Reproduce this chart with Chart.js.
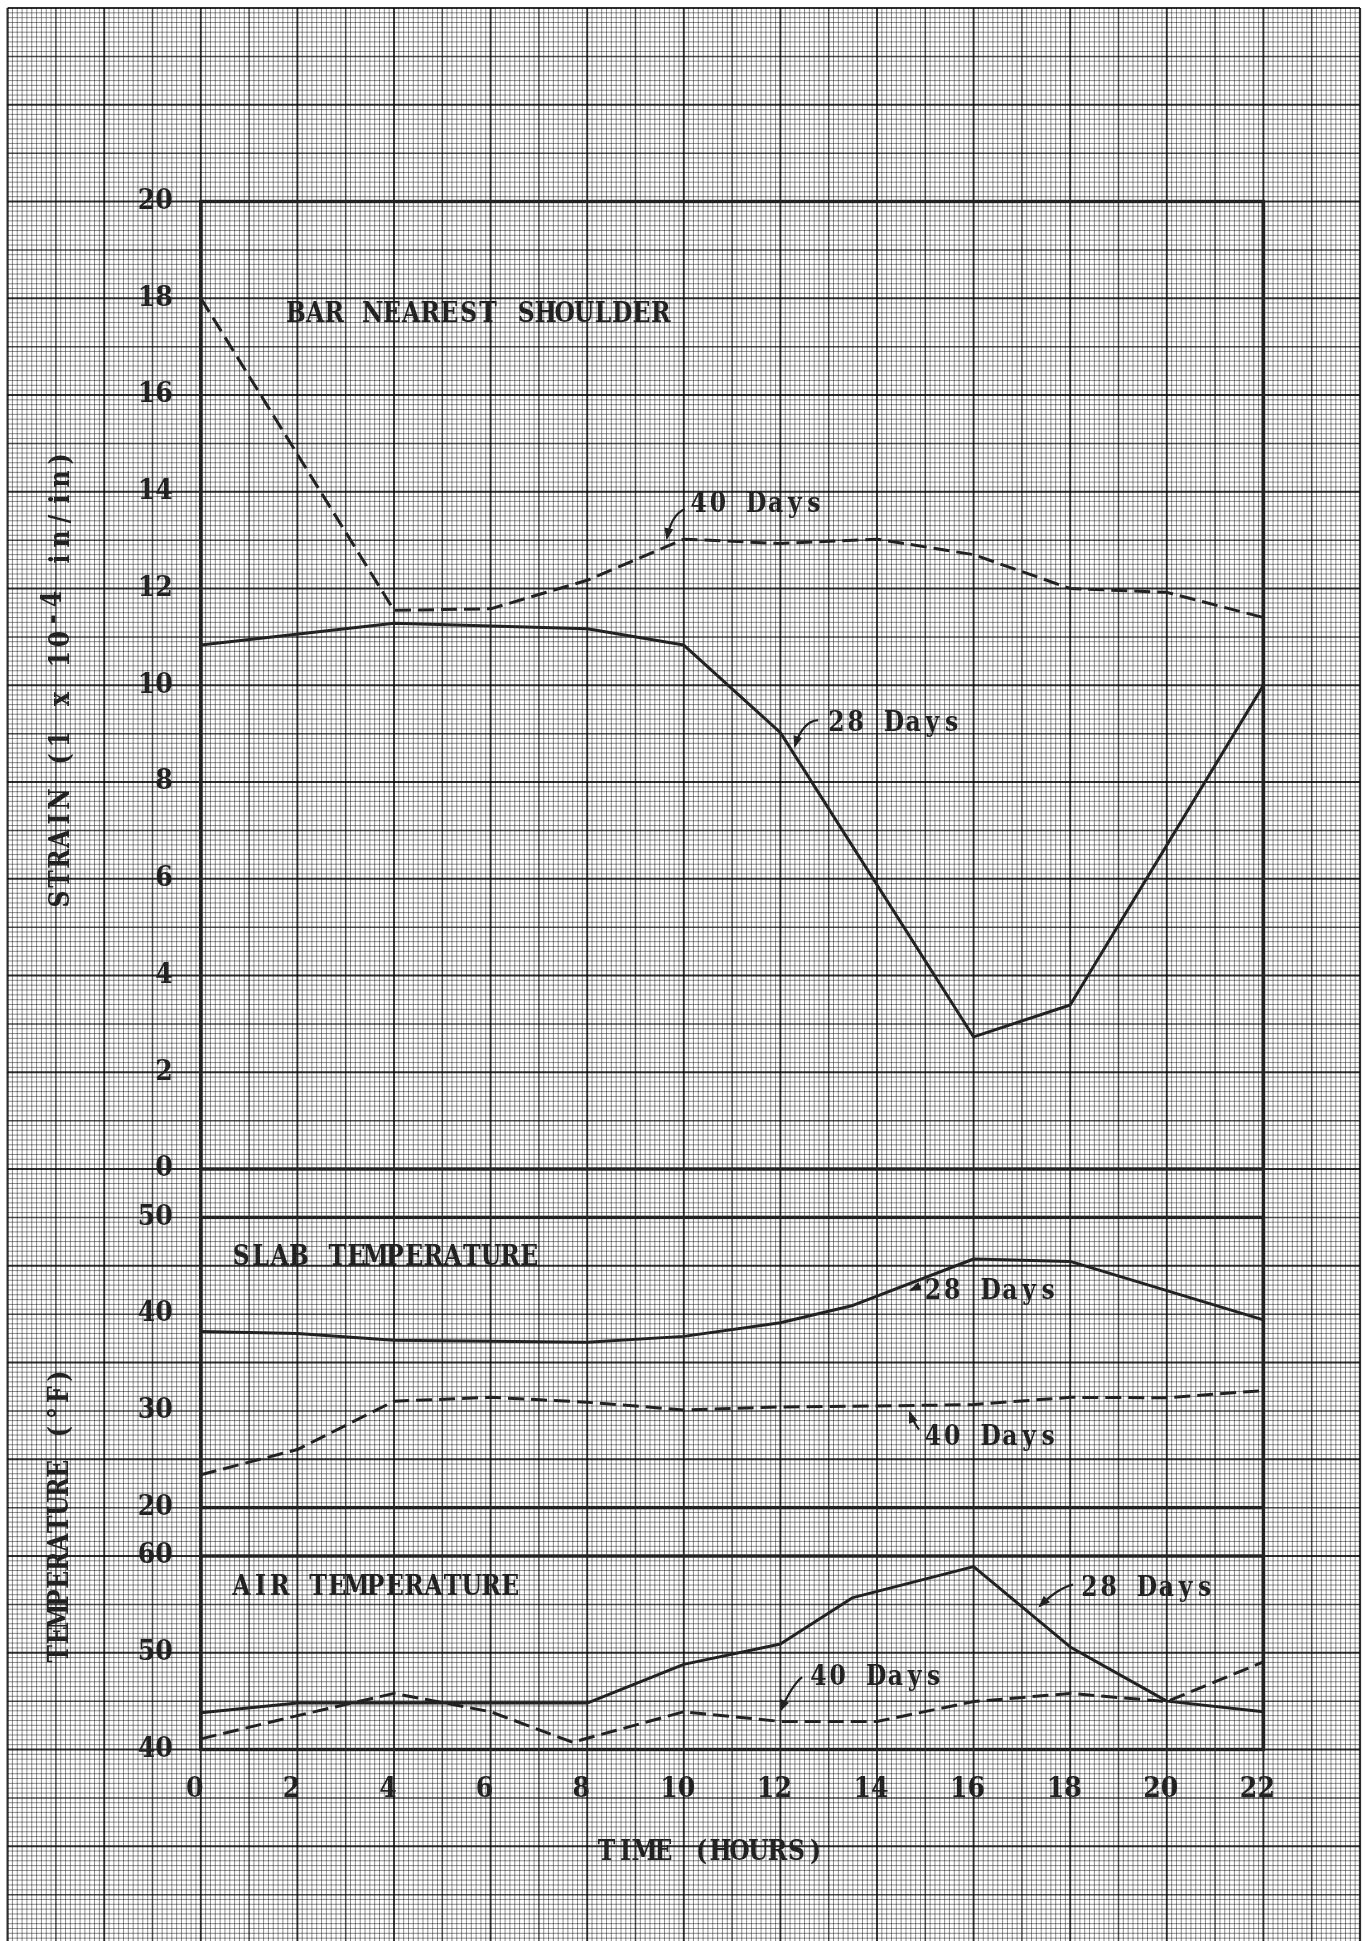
<!DOCTYPE html>
<html>
<head>
<meta charset="utf-8">
<title>Strain and temperature vs time</title>
<script src="https://cdn.jsdelivr.net/npm/chart.js@4/dist/chart.umd.min.js"></script>
<style>
  html, body { margin: 0; padding: 0; background: #fff; }
  canvas { display: block; }
</style>
</head>
<body>
<canvas id="chart" width="1365" height="1941"></canvas>
<script>
// ---- tick labels ----
const timeTicks   = [0, 2, 4, 6, 8, 10, 12, 14, 16, 18, 20, 22];
const strainTicks = [0, 2, 4, 6, 8, 10, 12, 14, 16, 18, 20];
const slabTicks   = [20, 30, 40, 50];
const airTicks    = [40, 50, 60];

// ---- strain, bar nearest shoulder (1 x 10^-4 in/in) ----
const strainHours28 = [0, 4, 8, 10, 12, 16, 18, 22];
const strain28      = [10.83, 11.28, 11.17, 10.83, 9.02, 2.73, 3.39, 10.0];
const strainHours40 = [0, 4, 6, 8, 10, 12, 14, 16, 18, 20, 22];
const strain40      = [18.0, 11.55, 11.58, 12.17, 13.02, 12.93, 13.02, 12.7, 12.0, 11.92, 11.4];

// ---- slab temperature (deg F) ----
const slabHours28 = [0, 2, 4, 8, 10, 12, 13.5, 16, 18, 22];
const slab28      = [38.2, 38.0, 37.3, 37.1, 37.7, 39.1, 40.9, 45.7, 45.45, 39.4];
const slabHours40 = [0, 2, 4, 6, 8, 10, 12, 14, 16, 18, 20, 22];
const slab40      = [23.4, 26.0, 31.0, 31.4, 30.9, 30.1, 30.4, 30.5, 30.65, 31.4, 31.35, 32.1];

// ---- air temperature (deg F) ----
const airHours28 = [0, 2, 8, 10, 12, 13.5, 16, 18, 20, 22];
const air28      = [43.8, 44.8, 44.8, 48.8, 50.9, 55.7, 58.9, 50.6, 45.0, 43.9];
const airHours40 = [0, 2, 4, 6, 7.7, 10, 12, 14, 16, 18, 20, 22];
const air40      = [41.1, 43.5, 45.8, 43.9, 40.75, 43.9, 42.9, 42.9, 44.95, 45.8, 44.95, 49.05];

// ---- typed labels placed in data units of each panel ----
const panelTitles = [
  { text: 'BAR NEAREST SHOULDER', yAxis: 'yStrain', x: 1.77, y: 17.72 },
  { text: 'SLAB TEMPERATURE',     yAxis: 'ySlab',   x: 0.64, y: 46.14 },
  { text: 'AIR TEMPERATURE',      yAxis: 'yAir',    x: 0.64, y: 57.05 }
];
const curveNotes = [
  { text: '40 Days', yAxis: 'yStrain', x: 10.11, y: 13.79, arrow: [[10.02, 13.64], [9.75, 13.54], [9.65, 13.04]] },
  { text: '28 Days', yAxis: 'yStrain', x: 12.96, y: 9.27,  arrow: [[12.78, 9.28], [12.46, 9.26], [12.30, 8.74]] },
  { text: '28 Days', yAxis: 'ySlab',   x: 14.96, y: 42.55, arrow: [[14.91, 42.91], [14.82, 42.75], [14.70, 42.50]] },
  { text: '40 Days', yAxis: 'ySlab',   x: 14.96, y: 27.46, arrow: [[14.87, 28.05], [14.74, 28.98], [14.68, 29.81]] },
  { text: '28 Days', yAxis: 'yAir',    x: 18.20, y: 56.90, arrow: [[18.06, 57.04], [17.75, 56.69], [17.37, 54.83]] },
  { text: '40 Days', yAxis: 'yAir',    x: 12.59, y: 47.67, arrow: [[12.45, 47.49], [12.24, 46.67], [12.01, 44.08]] }
];

// ---- look ----
const INK = '#222222';
const FAMILY = '"DejaVu Serif Condensed", "DejaVu Serif", serif';
const TYPE_SIZE = 27.5;      // px
const CAP = 20;              // cap height of the typed lettering
const SQUEEZE = 0.95;        // horizontal squeeze of each typed glyph
const ADVANCE = 19.2;        // fixed typewriter pitch

function series(hours, values) {
  return hours.map((h, i) => ({ x: h, y: values[i] }));
}

function drawTyped(ctx, segments, left, midY, adv) {
  let i = 0;
  for (const seg of segments) {
    for (const ch of seg.t) {
      if (ch !== ' ') {
        ctx.save();
        ctx.translate(left + adv * (i + 0.5), midY + CAP / 2 + (seg.dy || 0));
        ctx.scale(SQUEEZE, 1);
        ctx.fillText(ch, 0, 0);
        ctx.restore();
      }
      i++;
    }
  }
  return i;
}

// graph paper behind everything, ruled from the time and strain scales
const paperPlugin = {
  id: 'paper',
  beforeDraw(chart) {
    const { ctx } = chart;
    const x = chart.scales.x, ys = chart.scales.yStrain;
    const cw = x.getPixelForValue(1) - x.getPixelForValue(0);
    const ch = ys.getPixelForValue(0) - ys.getPixelForValue(1);
    const ox = x.getPixelForValue(0), oy = ys.getPixelForValue(20);
    const x0 = ox - 4 * cw, x1 = ox + 24 * cw;
    const y0 = oy - 4 * ch, y1 = chart.height + 2;
    ctx.save();
    ctx.fillStyle = '#ffffff';
    ctx.fillRect(0, 0, chart.width, chart.height);

    // fine rulings
    ctx.strokeStyle = 'rgba(0,0,0,0.45)';
    ctx.lineWidth = 1;
    ctx.beginPath();
    for (let i = 0; i <= 280; i++) {
      if (i % 10 === 0) continue;
      const px = x0 + i * cw / 10;
      ctx.moveTo(px, y0); ctx.lineTo(px, y1);
    }
    for (let j = 0; y0 + j * ch / 10 <= y1; j++) {
      if (j % 10 === 0) continue;
      const py = y0 + j * ch / 10;
      ctx.moveTo(x0, py); ctx.lineTo(x1, py);
    }
    ctx.stroke();

    // cell rulings, every second one heavier
    for (let i = 0; i <= 28; i++) {
      const px = x0 + i * cw;
      const heavy = i % 2 === 0;
      ctx.strokeStyle = heavy ? 'rgba(0,0,0,0.82)' : 'rgba(0,0,0,0.7)';
      ctx.lineWidth = (i === 0 || i === 28) ? 2.2 : heavy ? 1.9 : 1.5;
      ctx.beginPath(); ctx.moveTo(px, y0); ctx.lineTo(px, y1); ctx.stroke();
    }
    for (let j = 0; y0 + j * ch <= y1; j++) {
      const py = y0 + j * ch;
      const heavy = j % 2 === 0;
      ctx.strokeStyle = heavy ? 'rgba(0,0,0,0.82)' : 'rgba(0,0,0,0.7)';
      ctx.lineWidth = j === 0 ? 2.2 : heavy ? 1.9 : 1.5;
      ctx.beginPath(); ctx.moveTo(x0, py); ctx.lineTo(x1, py); ctx.stroke();
    }
    ctx.restore();
  }
};

// heavy frames around the three panels
const framePlugin = {
  id: 'frames',
  beforeDatasetsDraw(chart) {
    const { ctx, chartArea: a } = chart;
    ctx.save();
    ctx.strokeStyle = INK;
    ctx.lineWidth = 3.4;
    for (const id of ['yStrain', 'ySlab', 'yAir']) {
      const s = chart.scales[id];
      ctx.strokeRect(a.left, s.top, a.right - a.left, s.bottom - s.top);
    }
    ctx.beginPath();
    ctx.moveTo(a.left, a.top); ctx.lineTo(a.left, a.bottom);
    ctx.moveTo(a.right, a.top); ctx.lineTo(a.right, a.bottom);
    ctx.stroke();
    ctx.restore();
  }
};

// typed titles, curve labels with their pointer arrows, axis titles
const notesPlugin = {
  id: 'notes',
  afterDatasetsDraw(chart) {
    const { ctx } = chart;
    const x = chart.scales.x;
    ctx.save();
    ctx.fillStyle = INK;
    ctx.strokeStyle = INK;
    ctx.font = `bold ${TYPE_SIZE}px ${FAMILY}`;
    ctx.textAlign = 'center';
    ctx.textBaseline = 'alphabetic';

    for (const t of panelTitles) {
      const y = chart.scales[t.yAxis];
      drawTyped(ctx, [{ t: t.text }], x.getPixelForValue(t.x), y.getPixelForValue(t.y), ADVANCE);
    }

    for (const n of curveNotes) {
      const y = chart.scales[n.yAxis];
      drawTyped(ctx, [{ t: n.text }], x.getPixelForValue(n.x), y.getPixelForValue(n.y), ADVANCE);
      const p = n.arrow.map(([hx, vy]) => [x.getPixelForValue(hx), y.getPixelForValue(vy)]);
      ctx.lineWidth = 2.2;
      ctx.beginPath();
      ctx.moveTo(p[0][0], p[0][1]);
      ctx.quadraticCurveTo(p[1][0], p[1][1], p[2][0], p[2][1]);
      ctx.stroke();
      const ang = Math.atan2(p[2][1] - p[1][1], p[2][0] - p[1][0]);
      const L = 10, W = 4.5;
      ctx.beginPath();
      ctx.moveTo(p[2][0] + Math.cos(ang) * 2, p[2][1] + Math.sin(ang) * 2);
      ctx.lineTo(p[2][0] - Math.cos(ang) * L - Math.sin(ang) * W, p[2][1] - Math.sin(ang) * L + Math.cos(ang) * W);
      ctx.lineTo(p[2][0] - Math.cos(ang) * L + Math.sin(ang) * W, p[2][1] - Math.sin(ang) * L - Math.cos(ang) * W);
      ctx.closePath();
      ctx.fill();
    }

    // time axis title
    const timeTitle = 'TIME (HOURS)';
    drawTyped(ctx, [{ t: timeTitle }], 711 - timeTitle.length * 19 / 2, 1850, 19);

    // strain axis title (rotated)
    const strainSegs = [{ t: 'STRAIN (1 x 10' }, { t: '-4', dy: -8 }, { t: ' in/in)' }];
    const nStrain = strainSegs.reduce((k, s) => k + s.t.length, 0);
    ctx.save();
    ctx.translate(59, 679);
    ctx.rotate(-Math.PI / 2);
    drawTyped(ctx, strainSegs, -nStrain * 20 / 2, 0, 20);
    ctx.restore();

    // temperature axis title (rotated)
    const tempTitle = 'TEMPERATURE (\u00B0F)';
    ctx.save();
    ctx.translate(58, 1515);
    ctx.rotate(-Math.PI / 2);
    drawTyped(ctx, [{ t: tempTitle }], -tempTitle.length * 18.5 / 2, 0, 18.5);
    ctx.restore();

    ctx.restore();
  }
};

const tickFont = { family: FAMILY, size: 28, weight: 'bold' };

function valueAxis(min, max, weight, ticks) {
  return {
    type: 'linear', axis: 'y', position: 'left', stack: 'panels', stackWeight: weight,
    min, max,
    afterBuildTicks: s => { s.ticks = ticks.map(v => ({ value: v })); },
    afterFit: s => { s.width = 100; },
    grid: { display: false, drawTicks: false },
    border: { display: false },
    ticks: { color: INK, font: tickFont, padding: 28, crossAlign: 'near', autoSkip: false }
  };
}
function gapAxis() {
  return {
    type: 'linear', axis: 'y', position: 'left', stack: 'panels', stackWeight: 1,
    min: 0, max: 1,
    afterFit: s => { s.width = 100; },
    grid: { display: false, drawTicks: false },
    border: { display: false },
    ticks: { display: false }
  };
}

const line = {
  borderColor: INK, borderWidth: 3, pointRadius: 0, tension: 0, fill: false,
  borderJoinStyle: 'round'
};
const dashed = [16, 7];

new Chart(document.getElementById('chart'), {
  type: 'line',
  data: {
    datasets: [
      { ...line, label: '28 Days', yAxisID: 'yStrain', data: series(strainHours28, strain28) },
      { ...line, label: '40 Days', yAxisID: 'yStrain', borderDash: dashed, data: series(strainHours40, strain40) },
      { ...line, label: '28 Days', yAxisID: 'ySlab', data: series(slabHours28, slab28) },
      { ...line, label: '40 Days', yAxisID: 'ySlab', borderDash: dashed, data: series(slabHours40, slab40) },
      { ...line, label: '28 Days', yAxisID: 'yAir', data: series(airHours28, air28) },
      { ...line, label: '40 Days', yAxisID: 'yAir', borderDash: dashed, data: series(airHours40, air40) }
    ]
  },
  options: {
    responsive: false,
    animation: false,
    devicePixelRatio: 1,
    events: [],
    layout: { padding: { left: 100.8, right: 101.6, top: 201.5, bottom: 91.5 } },
    plugins: { legend: { display: false }, tooltip: { enabled: false }, title: { display: false } },
    scales: {
      yAir: valueAxis(40, 60, 4, airTicks),
      yGapB: gapAxis(),
      ySlab: valueAxis(20, 50, 6, slabTicks),
      yGapA: gapAxis(),
      yStrain: valueAxis(0, 20, 20, strainTicks),
      x: {
        type: 'linear', position: 'bottom', min: 0, max: 22,
        afterBuildTicks: s => { s.ticks = timeTicks.map(v => ({ value: v })); },
        afterFit: s => { s.height = 100; },
        grid: { display: false, drawTicks: false },
        border: { display: false },
        ticks: { color: INK, font: tickFont, padding: 23.7, labelOffset: -6, autoSkip: false, maxRotation: 0 }
      }
    }
  },
  plugins: [paperPlugin, framePlugin, notesPlugin]
});
</script>
</body>
</html>
